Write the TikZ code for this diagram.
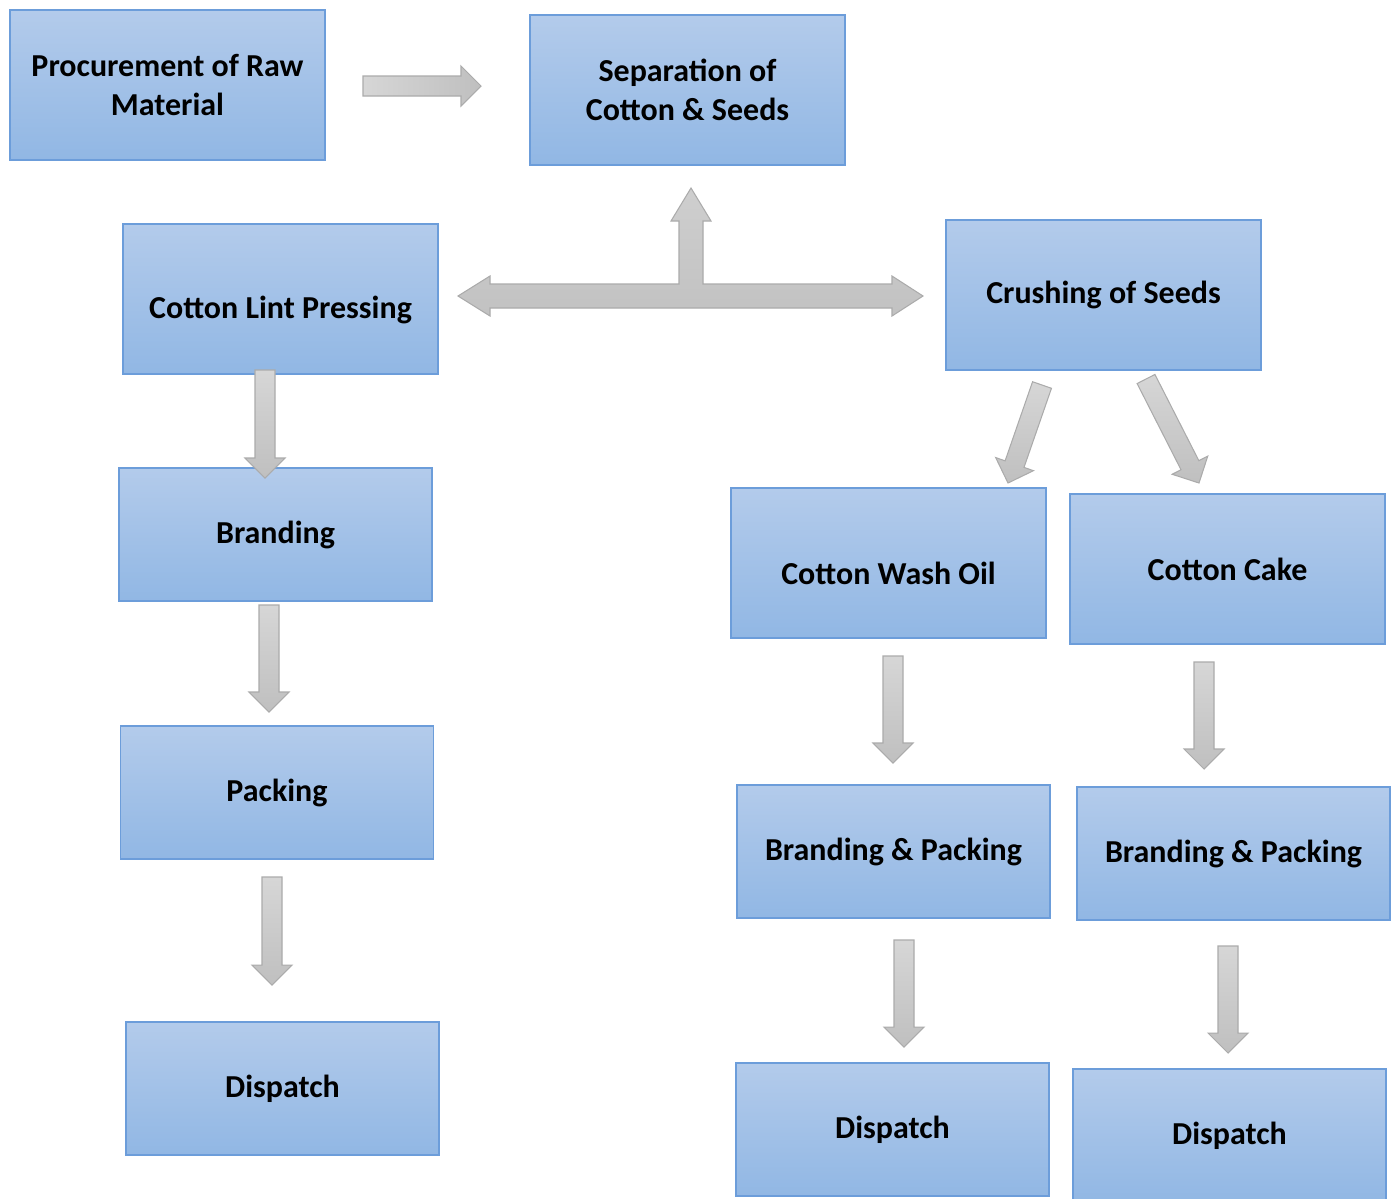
\documentclass[tikz,border=0pt]{standalone}
\usepackage{fontspec}
\setmainfont{Carlito}
\usetikzlibrary{calc}
\definecolor{boxtop}{RGB}{179,203,235}
\definecolor{boxbot}{RGB}{145,183,228}
\definecolor{boxline}{RGB}{108,157,218}
\tikzstyle{blue box}=[
    draw = boxline,
    line width = 0.8pt,
    top color = boxtop,
    bottom color = boxbot,
    minimum width = 6.3cm,
    minimum height = 3cm,
    align = center,
    font = \fontsize{18.2}{22}\selectfont\bfseries
]
\tikzstyle{block arrow}=[
    draw = black!33,
    line width = 0.6pt,
    top color = black!16,
    bottom color = black!25
]
% block arrow from #2 to #3 (shaft 0.4cm wide, head 0.8cm wide, 0.4cm long)
\newcommand{\blockarrow}[3][]{%
    \coordinate (h) at ($(#3)!0.4cm!(#2)$);
    \draw[block arrow, #1] ($(#2)!0.2cm!90:(#3)$) -- ($(h)!0.2cm!90:(#3)$)
        -- ($(h)!0.4cm!90:(#3)$) -- (#3) -- ($(h)!0.4cm!-90:(#3)$)
        -- ($(h)!0.2cm!-90:(#3)$) -- ($(#2)!0.2cm!-90:(#3)$) -- cycle;
}

\begin{document}
\begin{tikzpicture}[x=0.02cm, y=-0.02cm, short/.style = {minimum width=6.26cm, minimum height=2.66cm}, low/.style = {text height=25pt}]
        \useasboundingbox (0,0) rectangle (1398,1198);

        \node[blue box] (1) at (167.5,85) {Procurement of Raw\\Material};
        \node[blue box] (2) at (687.5,90) {Separation of\\Cotton \& Seeds};
        \node[blue box, low] (3) at (280.5,299) {Cotton Lint Pressing};
        \node[blue box] (4) at (1103.5,295) {Crushing of Seeds};
        \node[blue box, short] (5) at (275.5,534.5) {Branding};
        \node[blue box, short] (6) at (277,792.5) {Packing};
        \node[blue box, short] (7) at (282.5,1088.5) {Dispatch};
        \node[blue box, low] (8) at (888.5,563) {Cotton Wash Oil};
        \node[blue box] (9) at (1227.5,569) {Cotton Cake};
        \node[blue box, short] (10) at (893.5,851.5) {Branding \& Packing};
        \node[blue box, short] (11) at (1233.5,853.5) {Branding \& Packing};
        \node[blue box, short] (12) at (892.5,1129.5) {Dispatch};
        \node[blue box, short] (13) at (1229.5,1135.5) {Dispatch};

        % arrow ends
        \coordinate (a1) at (363,86);   \coordinate (b1) at (481,86);
        \coordinate (a2) at (265,370);  \coordinate (b2) at (265,478);
        \coordinate (a3) at (269,605);  \coordinate (b3) at (269,712);
        \coordinate (a4) at (272,877);  \coordinate (b4) at (272,985);
        \coordinate (a5) at (1042,385); \coordinate (b5) at (1008,483);
        \coordinate (a6) at (1146,379); \coordinate (b6) at (1199,483);
        \coordinate (a7) at (893,656);  \coordinate (b7) at (893,763);
        \coordinate (a8) at (1204,662); \coordinate (b8) at (1204,769);
        \coordinate (a9) at (904,940);  \coordinate (b9) at (904,1047);
        \coordinate (a10) at (1228,946); \coordinate (b10) at (1228,1053);

        \blockarrow[shading angle=90]{a1}{b1}
        \blockarrow{a2}{b2}
        \blockarrow{a3}{b3}
        \blockarrow{a4}{b4}
        \blockarrow{a5}{b5}
        \blockarrow{a6}{b6}
        \blockarrow{a7}{b7}
        \blockarrow{a8}{b8}
        \blockarrow{a9}{b9}
        \blockarrow{a10}{b10}

        % three way arrow between 3, 2 and 4
        \draw[block arrow, top color=black!19, bottom color=black!24] (458,296) -- (490,276) -- (490,284) -- (679,284) -- (679,221) -- (671,221)
            -- (691,188) -- (711,221) -- (703,221) -- (703,284) -- (892,284) -- (892,276)
            -- (923,296) -- (892,316) -- (892,308) -- (490,308) -- (490,316) -- cycle;

    \end{tikzpicture}
\end{document}
